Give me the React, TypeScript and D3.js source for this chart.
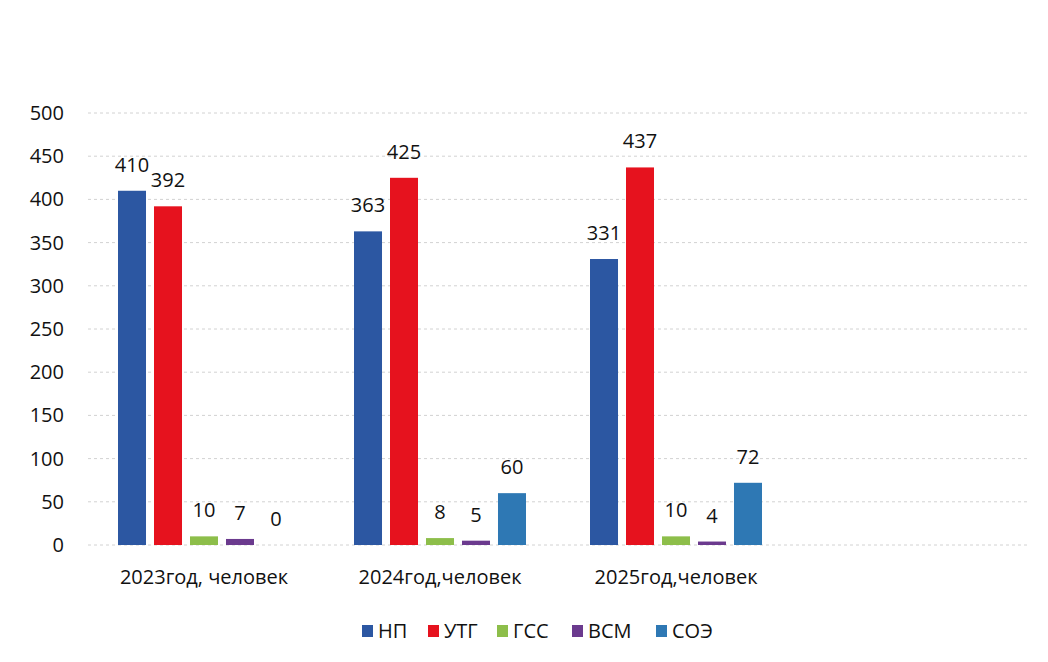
import React from "react";
import * as d3 from "d3";

const categories = ["2023год, человек", "2024год,человек", "2025год,человек", ""];
const seriesNames = ["НП", "УТГ", "ГСС", "ВСМ", "СОЭ"];
const np = [410, 363, 331];
const utg = [392, 425, 437];
const gss = [10, 8, 10];
const vsm = [7, 5, 4];
const soe = [0, 60, 72];
const yTicks = [0, 50, 100, 150, 200, 250, 300, 350, 400, 450, 500];
const colors = ["#2C57A2", "#E6121E", "#8DBE4A", "#6B3A8E", "#2E78B4"];

const seriesValues = [np, utg, gss, vsm, soe];

export default function App() {
  const W = 1048, H = 662;
  const left = 86, right = 1030, top = 113, bottom = 545;
  const font = "'Open Sans', 'Liberation Sans', sans-serif";
  const x = d3.scaleBand().domain(categories.map((c, i) => String(i))).range([left, right]).paddingInner(0).paddingOuter(0);
  const y = d3.scaleLinear().domain([0, 500]).range([bottom, top]);
  const inner = d3.scaleBand().domain(seriesNames).range([0, 172]).paddingInner(0.222);
  const bw = inner.bandwidth();

  return (
    <svg width={W} height={H} style={{ position: "absolute", left: 0, top: 0, background: "#fff" }} fontFamily={font}>
      {yTicks.map((t) => (
        <g key={t}>
          <line x1={88} x2={right} y1={y(t)} y2={y(t)} stroke="#d2d2d2" strokeWidth={1} strokeDasharray="3,3" />
          <text x={64} y={y(t)} dy="0.35em" textAnchor="end" fontSize={20} fill="#111">{t}</text>
        </g>
      ))}
      {categories.slice(0, 3).map((c, ci) => {
        const cx = (x(String(ci)) as number) + x.bandwidth() / 2;
        const gx = cx - 86;
        return (
          <g key={ci}>
            {seriesNames.map((s, si) => {
              const v = seriesValues[si][ci];
              const bx = gx + (inner(s) as number);
              return (
                <g key={s}>
                  {v > 0 && (
                    <rect x={bx} y={y(v)} width={bw} height={bottom - y(v)} fill={colors[si]} />
                  )}
                  <text x={bx + bw / 2} y={y(v) - 19} textAnchor="middle" fontSize={20} fill="#111">{v}</text>
                </g>
              );
            })}
            <text x={cx} y={584} textAnchor="middle" fontSize={20} fill="#111">{c}</text>
          </g>
        );
      })}
      {seriesNames.map((s, si) => {
        const lx = [362, 428, 497, 572, 656][si];
        return (
          <g key={s}>
            <rect x={lx} y={625} width={11} height={12} fill={colors[si]} />
            <text x={lx + 16} y={631} dy="0.35em" fontSize={20} fill="#111">{s}</text>
          </g>
        );
      })}
    </svg>
  );
}
